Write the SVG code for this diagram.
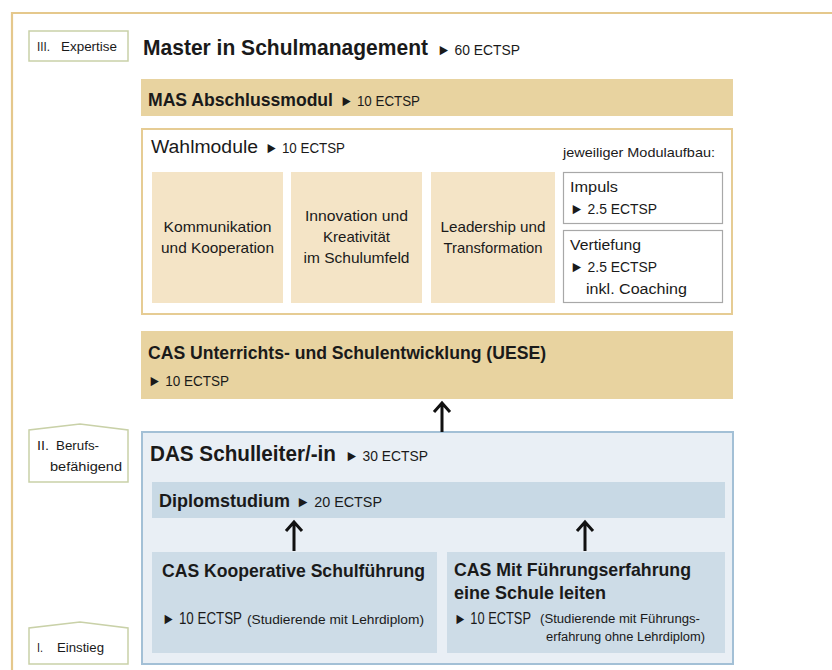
<svg xmlns="http://www.w3.org/2000/svg" width="832" height="670" viewBox="0 0 832 670">
<style>
.t{font-family:"Liberation Sans",Arial,sans-serif;fill:#1a1a1a}
.b{font-weight:bold}
.tan{fill:#e8d3a0}
.light{fill:#f4e4c6}
.lab{fill:#fff;stroke:#c9d1a8;stroke-width:1.5}
.mod{fill:#fff;stroke:#a8a8a8;stroke-width:1.2}
.cas{fill:#cddce7}
.arr{fill:none;stroke:#111;stroke-width:3}
</style>
<rect x="0" y="0" width="832" height="670" fill="#fff"/>
<path d="M12,670 V13 H832" fill="none" stroke="#e5c88c" stroke-width="2.2"/>

<g id="label-expertise">
<rect class="lab" x="29" y="31" width="99" height="30"/>
<text class="t" x="37" y="51" font-size="13" textLength="13" lengthAdjust="spacingAndGlyphs">III.</text>
<text class="t" x="61" y="51" font-size="13" textLength="56" lengthAdjust="spacingAndGlyphs">Expertise</text>
</g>
<g id="label-berufs">
<polygon class="lab" points="29,482 29,430 80,424 128,430 128,482"/>
<text class="t" x="37" y="450" font-size="13" textLength="12" lengthAdjust="spacingAndGlyphs">II.</text>
<text class="t" x="56" y="450" font-size="13" textLength="43" lengthAdjust="spacingAndGlyphs">Berufs-</text>
<text class="t" x="50" y="471" font-size="13" textLength="72" lengthAdjust="spacingAndGlyphs">befähigend</text>
</g>
<g id="label-einstieg">
<polygon class="lab" points="29,664 29,628 80,622 128,628 128,664"/>
<text class="t" x="37" y="652" font-size="13" textLength="6" lengthAdjust="spacingAndGlyphs">I.</text>
<text class="t" x="57" y="652" font-size="13" textLength="47" lengthAdjust="spacingAndGlyphs">Einstieg</text>
</g>

<g id="master">
<text class="t b" x="143" y="55" font-size="21.5" textLength="285" lengthAdjust="spacingAndGlyphs">Master in Schulmanagement</text>
<text class="t" x="437" y="55" font-size="15.5" textLength="83" lengthAdjust="spacingAndGlyphs">► 60 ECTSP</text>
</g>

<g id="mas">
<rect class="tan" x="141" y="79" width="592" height="37"/>
<text class="t b" x="148" y="106" font-size="19" textLength="185" lengthAdjust="spacingAndGlyphs">MAS Abschlussmodul</text>
<text class="t" x="340" y="106" font-size="15.5" textLength="80" lengthAdjust="spacingAndGlyphs">► 10 ECTSP</text>
</g>

<g id="wahlmodule">
<rect x="142" y="129" width="590" height="185" fill="#fff" stroke="#e6cc94" stroke-width="2"/>
<text class="t" x="151" y="153" font-size="18" textLength="107" lengthAdjust="spacingAndGlyphs">Wahlmodule</text>
<text class="t" x="265" y="153" font-size="15.5" textLength="80" lengthAdjust="spacingAndGlyphs">► 10 ECTSP</text>
<text class="t" x="563" y="157" font-size="13.5" textLength="152" lengthAdjust="spacingAndGlyphs">jeweiliger Modulaufbau:</text>
</g>

<g id="modul-kommunikation">
<rect class="light" x="152" y="172" width="131" height="131"/>
<text class="t" x="217.5" y="232" font-size="14.5" text-anchor="middle" textLength="108" lengthAdjust="spacingAndGlyphs">Kommunikation</text>
<text class="t" x="217.5" y="253" font-size="14.5" text-anchor="middle" textLength="113" lengthAdjust="spacingAndGlyphs">und Kooperation</text>
</g>
<g id="modul-innovation">
<rect class="light" x="291" y="172" width="131" height="131"/>
<text class="t" x="356.5" y="221" font-size="14.5" text-anchor="middle" textLength="103" lengthAdjust="spacingAndGlyphs">Innovation und</text>
<text class="t" x="356.5" y="242" font-size="14.5" text-anchor="middle" textLength="67" lengthAdjust="spacingAndGlyphs">Kreativität</text>
<text class="t" x="356.5" y="263" font-size="14.5" text-anchor="middle" textLength="106" lengthAdjust="spacingAndGlyphs">im Schulumfeld</text>
</g>
<g id="modul-leadership">
<rect class="light" x="431" y="172" width="124" height="131"/>
<text class="t" x="493" y="232" font-size="14.5" text-anchor="middle" textLength="105" lengthAdjust="spacingAndGlyphs">Leadership und</text>
<text class="t" x="493" y="253" font-size="14.5" text-anchor="middle" textLength="99" lengthAdjust="spacingAndGlyphs">Transformation</text>
</g>

<g id="impuls">
<rect class="mod" x="563.5" y="172.5" width="159" height="51"/>
<text class="t" x="570" y="192" font-size="15.5" textLength="48" lengthAdjust="spacingAndGlyphs">Impuls</text>
<text class="t" x="570" y="214" font-size="15.5" textLength="87" lengthAdjust="spacingAndGlyphs">► 2.5 ECTSP</text>
</g>
<g id="vertiefung">
<rect class="mod" x="563.5" y="230.5" width="159" height="72"/>
<text class="t" x="570" y="250" font-size="15.5" textLength="71" lengthAdjust="spacingAndGlyphs">Vertiefung</text>
<text class="t" x="570" y="272" font-size="15.5" textLength="87" lengthAdjust="spacingAndGlyphs">► 2.5 ECTSP</text>
<text class="t" x="586" y="294" font-size="15.5" textLength="101" lengthAdjust="spacingAndGlyphs">inkl. Coaching</text>
</g>

<g id="cas-uese">
<rect class="tan" x="141" y="331" width="592" height="68"/>
<text class="t b" x="148" y="359" font-size="19" textLength="398" lengthAdjust="spacingAndGlyphs">CAS Unterrichts- und Schulentwicklung (UESE)</text>
<text class="t" x="148" y="386" font-size="15.5" textLength="81" lengthAdjust="spacingAndGlyphs">► 10 ECTSP</text>
</g>

<g id="das">
<rect x="142" y="432" width="591" height="232" fill="#e9eff5" stroke="#a3c0d6" stroke-width="2"/>
<text class="t b" x="150" y="461" font-size="22" textLength="186" lengthAdjust="spacingAndGlyphs">DAS Schulleiter/-in</text>
<text class="t" x="345" y="461" font-size="15.5" textLength="83" lengthAdjust="spacingAndGlyphs">► 30 ECTSP</text>
</g>

<g id="diplomstudium">
<rect x="152" y="482" width="573" height="36" fill="#c8d9e5"/>
<text class="t b" x="159" y="507" font-size="17.5" textLength="131" lengthAdjust="spacingAndGlyphs">Diplomstudium</text>
<text class="t" x="296" y="507" font-size="15.5" textLength="86" lengthAdjust="spacingAndGlyphs">► 20 ECTSP</text>
</g>

<g id="cas-kooperativ">
<rect class="cas" x="152" y="552" width="285" height="101"/>
<text class="t b" x="162" y="577" font-size="19" textLength="263" lengthAdjust="spacingAndGlyphs">CAS Kooperative Schulführung</text>
<text class="t" x="162" y="624" font-size="16" textLength="80" lengthAdjust="spacingAndGlyphs">► 10 ECTSP</text>
<text class="t" x="247" y="624" font-size="12" textLength="177" lengthAdjust="spacingAndGlyphs">(Studierende mit Lehrdiplom)</text>
</g>

<g id="cas-fuehrung">
<rect class="cas" x="447" y="552" width="278" height="101"/>
<text class="t b" x="454" y="576" font-size="19" textLength="237" lengthAdjust="spacingAndGlyphs">CAS Mit Führungserfahrung</text>
<text class="t b" x="454" y="599" font-size="19" textLength="152" lengthAdjust="spacingAndGlyphs">eine Schule leiten</text>
<text class="t" x="454" y="624" font-size="16" textLength="77" lengthAdjust="spacingAndGlyphs">► 10 ECTSP</text>
<text class="t" x="540" y="623" font-size="12" textLength="160" lengthAdjust="spacingAndGlyphs">(Studierende mit Führungs-</text>
<text class="t" x="546" y="641" font-size="12" textLength="159" lengthAdjust="spacingAndGlyphs">erfahrung ohne Lehrdiplom)</text>
</g>

<g id="connectors">
<path class="arr" d="M442,432 V404 M434,412 L442,403 L450,412"/>
<path class="arr" d="M294,551 V523 M286,531 L294,522 L302,531"/>
<path class="arr" d="M585,551 V523 M577,531 L585,522 L593,531"/>
</g>
</svg>
